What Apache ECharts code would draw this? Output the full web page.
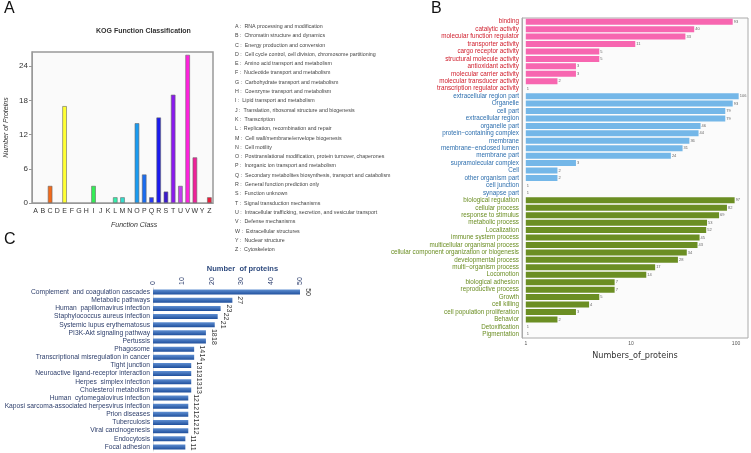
<!DOCTYPE html>
<html lang="en">
<head>
    <meta charset="UTF-8">
    <title>KOG / GO / KEGG</title>
    <script src="https://cdn.jsdelivr.net/npm/echarts@6/dist/echarts.min.js"></script>
    <style>
        * { margin: 0; padding: 0; box-sizing: border-box; }
        body { background: #fff; }
        #main { width: 751px; height: 453px; }
    </style>
</head>
<body>
    <div id="main"></div>

    <script>
        // ---- Panel A: KOG ----
        const kogLetters = ['A','B','C','D','E','F','G','H','I','J','K','L','M','N','O','P','Q','R','S','T','U','V','W','Y','Z'];
        const kogCounts = [0,0,3,0,17,0,0,0,3,0,0,1,1,0,14,5,1,15,2,19,3,26,8,0,1];
        const kogColors = ['#ff3333','#ff5533','#f26a1b','#ffaa22','#ffff33','#ccff33','#88ff33','#55ff33','#33ee55','#33ee77',
                           '#33ee99','#33eeaa','#33ddcc','#33bbee','#1a9bf0','#1a6cf0','#2a3cf0','#1a1aee','#3a1acc','#8a1aee',
                           '#c040f0','#ff22dd','#ee2299','#ee2266','#ee1a3a'];
        const kogDescriptions = [
            'RNA processing and modification',
            'Chromatin structure and dynamics',
            'Energy production and conversion',
            'Cell cycle control, cell division, chromosome partitioning',
            'Amino acid transport and metabolism',
            'Nucleotide transport and metabolism',
            'Carbohydrate transport and metabolism',
            'Coenzyme transport and metabolism',
            'Lipid transport and metabolism',
            'Translation, ribosomal structure and biogenesis',
            'Transcription',
            'Replication, recombination and repair',
            'Cell wall/membrane/envelope biogenesis',
            'Cell motility',
            'Posttranslational modification, protein turnover, chaperones',
            'Inorganic ion transport and metabolism',
            'Secondary metabolites biosynthesis, transport and catabolism',
            'General function prediction only',
            'Function unknown',
            'Signal transduction mechanisms',
            'Intracellular trafficking, secretion, and vesicular transport',
            'Defense mechanisms',
            'Extracellular structures',
            'Nuclear structure',
            'Cytoskeleton'
        ];

        // ---- Panel B: GO ----
        const mfNames = ['binding','catalytic activity','molecular function regulator','transporter activity','cargo receptor activity',
                         'structural molecule activity','antioxidant activity','molecular carrier activity','molecular transducer activity',
                         'transcription regulator activity'];
        const mfValues = [93,40,33,11,5,5,3,3,2,1];
        const ccNames = ['extracellular region part','Organelle','cell part','extracellular region','organelle part',
                         'protein\u2212containing complex','membrane','membrane\u2212enclosed lumen','membrane part',
                         'supramolecular complex','Cell','other organism part','cell junction','synapse part'];
        const ccValues = [106,93,79,79,46,44,36,31,24,3,2,2,1,1];
        const bpNames = ['biological regulation','cellular process','response to stimulus','metabolic process','Localization',
                         'immune system process','multicellular organismal process','cellular component organization or biogenesis',
                         'developmental process','multi\u2212organism process','Locomotion','biological adhesion','reproductive process',
                         'Growth','cell killing','cell population proliferation','Behavior','Detoxification','Pigmentation'];
        const bpValues = [97,82,69,53,52,45,43,34,28,17,14,7,7,5,4,3,2,1,1];

        // ---- Panel C: KEGG ----
        const keggNames = ['Complement  and coagulation cascades','Metabolic pathways','Human  papillomavirus infection',
                           'Staphylococcus aureus infection','Systemic lupus erythematosus','PI3K-Akt signaling pathway','Pertussis',
                           'Phagosome','Transcriptional misregulation in cancer','Tight junction','Neuroactive ligand-receptor interaction',
                           'Herpes  simplex infection','Cholesterol metabolism','Human  cytomegalovirus infection',
                           'Kaposi sarcoma-associated herpesvirus infection','Prion diseases','Tuberculosis','Viral carcinogenesis',
                           'Endocytosis','Focal adhesion'];
        const keggValues = [50,27,23,22,21,18,18,14,14,13,13,13,13,12,12,12,12,12,11,11];

        const font = '"Liberation Sans", Arial, sans-serif';

        // GO combined categories
        const goGroups = [
            { names: mfNames, values: mfValues, bar: '#f766b0', text: '#d0202e' },
            { names: ccNames, values: ccValues, bar: '#74b7e8', text: '#2e6fae' },
            { names: bpNames, values: bpValues, bar: '#6b8e23', text: '#6b8e23' }
        ];
        const goNames = [], goData = [], goTextColors = [];
        goGroups.forEach(g => {
            g.names.forEach((n, i) => {
                goNames.push(n);
                goData.push({ value: g.values[i], itemStyle: { color: g.bar } });
                goTextColors.push(g.text);
            });
        });

        // KOG legend as text lines
        const kogLegend = kogLetters.map((l, i) => ({
            type: 'text',
            left: 235,
            top: 24 + i * 9.3,
            style: { text: l + ' :  ' + kogDescriptions[i], fontSize: 5.3, fill: '#444', fontFamily: font }
        }));

        const chart = echarts.init(document.getElementById('main'));
        chart.setOption({
            animation: false,
            textStyle: { fontFamily: font },
            graphic: [
                { type: 'text', left: 4, top: 1, style: { text: 'A', fontSize: 16, fill: '#111', fontFamily: font } },
                { type: 'text', left: 431, top: 1, style: { text: 'B', fontSize: 16, fill: '#111', fontFamily: font } },
                { type: 'text', left: 4, top: 232, style: { text: 'C', fontSize: 16, fill: '#111', fontFamily: font } },
                { type: 'text', left: 96, top: 28, style: { text: 'KOG Function Classification', fontSize: 7, fontWeight: 'bold', fill: '#333', fontFamily: font } },
                { type: 'text', left: 111, top: 222, style: { text: 'Function Class', fontSize: 7, fontStyle: 'italic', fill: '#333', fontFamily: font } },
                ...kogLegend
            ],
            grid: [
                { left: 32, top: 52, width: 181, height: 151, show: true, backgroundColor: '#fafafa', borderColor: '#999', borderWidth: 1.5 },
                { left: 522, top: 18, width: 226, height: 320, show: true, backgroundColor: '#fbfbfb', borderColor: '#aaa', borderWidth: 1 },
                { left: 153, top: 288, width: 147, height: 163 }
            ],
            xAxis: [
                {
                    gridIndex: 0, type: 'category', data: kogLetters,
                    axisLine: { lineStyle: { color: '#999' } },
                    axisTick: { show: false },
                    axisLabel: { interval: 0, fontSize: 7, color: '#333', margin: 5 }
                },
                {
                    gridIndex: 1, type: 'log', logBase: 10, min: 0.92, max: 130,
                    name: 'Numbers_of_proteins', nameLocation: 'middle', nameGap: 13,
                    nameTextStyle: { fontSize: 9, color: '#333', fontFamily: '"Liberation Sans Narrow", "DejaVu Sans Condensed", sans-serif' },
                    axisLine: { lineStyle: { color: '#aaa' } },
                    axisTick: { length: 2, lineStyle: { color: '#888' } },
                    axisLabel: { fontSize: 5, color: '#555', margin: 3, showMinLabel: false, showMaxLabel: false },
                    splitLine: { show: false }
                },
                {
                    gridIndex: 2, type: 'value', position: 'top', min: 0, max: 50, interval: 10,
                    name: 'Number  of proteins', nameLocation: 'middle', nameGap: 15,
                    nameTextStyle: { fontSize: 7.5, fontWeight: 'bold', color: '#2e4a7e', padding: [0, 0, 0, 32] },
                    axisLine: { show: false },
                    axisTick: { show: false },
                    axisLabel: { rotate: -90, fontSize: 7, color: '#2e3f6e', margin: 3 },
                    splitLine: { show: false }
                }
            ],
            yAxis: [
                {
                    gridIndex: 0, type: 'value', min: 0, max: 26.5, interval: 6,
                    name: 'Number of Proteins', nameLocation: 'middle', nameGap: 22,
                    nameTextStyle: { fontSize: 7, fontStyle: 'italic', color: '#333' },
                    axisLine: { show: true, lineStyle: { color: '#999' } },
                    axisTick: { show: true, length: 3, lineStyle: { color: '#999' } },
                    axisLabel: { fontSize: 8, color: '#333', margin: 4, showMaxLabel: false },
                    splitLine: { show: false }
                },
                {
                    gridIndex: 1, type: 'category', data: goNames, inverse: true,
                    axisLine: { lineStyle: { color: '#aaa' } },
                    axisTick: { length: 2, alignWithLabel: true, lineStyle: { color: '#666' } },
                    axisLabel: {
                        interval: 0, fontSize: 6.3, margin: 3,
                        color: (v, i) => goTextColors[i]
                    }
                },
                {
                    gridIndex: 2, type: 'category', data: keggNames, inverse: true,
                    axisLine: { lineStyle: { color: '#ddd' } },
                    axisTick: { show: false },
                    axisLabel: { interval: 0, fontSize: 6.7, color: '#2d3e6b', margin: 3 }
                }
            ],
            series: [
                {
                    type: 'bar', xAxisIndex: 0, yAxisIndex: 0, barWidth: 4.5,
                    data: kogCounts.map((v, i) => ({
                        value: v,
                        itemStyle: { color: kogColors[i], borderColor: '#666', borderWidth: v > 0 ? 0.6 : 0 }
                    }))
                },
                {
                    type: 'bar', xAxisIndex: 1, yAxisIndex: 1, barWidth: 6,
                    data: goData,
                    label: { show: true, position: 'right', distance: 1, fontSize: 4, color: '#666' }
                },
                {
                    type: 'bar', xAxisIndex: 2, yAxisIndex: 2, barWidth: 5,
                    data: keggValues,
                    itemStyle: {
                        color: new echarts.graphic.LinearGradient(0, 0, 0, 1, [
                            { offset: 0, color: '#5f8fd2' },
                            { offset: 1, color: '#1f4f9c' }
                        ])
                    },
                    label: {
                        show: true, position: 'right', distance: 8, rotate: -90,
                        align: 'center', verticalAlign: 'middle', fontSize: 7, color: '#333'
                    }
                }
            ]
        });
    </script>
</body>
</html>
